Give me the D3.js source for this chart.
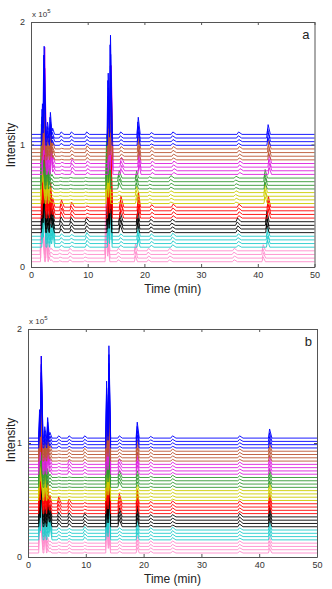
<!DOCTYPE html>
<html><head><meta charset="utf-8">
<script src="https://cdn.jsdelivr.net/npm/d3@7/dist/d3.min.js"></script>
<style>body{margin:0;background:#fff}svg{display:block}text{font-family:"Liberation Sans",Arial,sans-serif}</style>
</head><body><svg id="c" width="332" height="589"></svg>
<script>
// Peak retention times (min), shared by all samples
const peakTimes  = [2.0, 2.3, 2.9, 3.4, 3.8, 5.3, 7.1, 9.8, 13.6, 14.0, 15.8, 18.9, 21.2, 25.0, 36.6, 41.8];
const peakLeftW  = [0.15,0.15,0.15,0.15,0.2,0.25,0.25,0.25,0.15,0.15,0.25,0.2,0.25,0.3,0.3,0.2];
const peakRightW = [0.3,0.3,0.3,0.3,0.35,0.5,0.5,0.5,0.3,0.3,0.5,0.35,0.5,0.6,0.6,0.4];
// Peak heights (x10^5) per sample group, bottom to top
const pinkH    = [0.45,0.25,0.25,0.05,0.02,0.01,0.02,0.01,0.45,0.15,0.02,0.06,0.02,0.02,0.02,0.05];
const cyanH    = [0.20,0.45,0.10,0.10,0.16,0.02,0.015,0.03,0.20,0.45,0.02,0.08,0.02,0.025,0.02,0.07];
const blackH   = [0.20,0.50,0.10,0.20,0.10,0.04,0.035,0.03,0.25,0.50,0.08,0.10,0.02,0.02,0.03,0.09];
const redH     = [0.30,0.60,0.15,0.20,0.07,0.06,0.04,0.01,0.30,0.55,0.09,0.12,0.02,0.025,0.025,0.09];
const yellowH  = [0.45,0.20,0.25,0.05,0.02,0.005,0.005,0.005,0.35,0.30,0.01,0.05,0.01,0.015,0.015,0.07];
const greenH   = [0.50,0.20,0.30,0.08,0.03,0.005,0.005,0.005,0.35,0.30,0.06,0.06,0.01,0.02,0.015,0.07];
const magentaH = [0.30,0.95,0.10,0.25,0.05,0.01,0.035,0.02,0.30,0.80,0.05,0.10,0.02,0.02,0.02,0.07];
const brownH   = [0.20,0.50,0.10,0.20,0.05,0.005,0.02,0.025,0.30,0.60,0.02,0.10,0.02,0.02,0.02,0.07];
const blueH    = [0.25,0.72,0.10,0.18,0.05,0.02,0.02,0.02,0.50,0.81,0.02,0.14,0.015,0.02,0.02,0.08];
const groupHeights = [pinkH, cyanH, blackH, redH, yellowH, greenH, magentaH, brownH, blueH];
const groupColors  = ["#ff8ccc","#22cccc","#000000","#ff0000","#cccc00","#339933","#dd22dd","#bb5533","#0000ff"];
// Within-group relative intensity of the 4 replicate traces
const traceScale = [0.8, 0.88, 0.94, 1.0];
// Retention-time misalignment in panel a (fractional drift, constant shift in min)
const driftA = [-0.017,-0.003,-0.005,0.0,-0.01,-0.01,0.003,0.002,0.0];
const shiftA = [-0.15, 0.05, 0.0, 0.05,-0.1,-0.1, 0.1, 0.05, 0.0];
const traceJitterA = [0.0, 0.05, -0.05, 0.02];
const xTicks = [0,10,20,30,40,50];
const yTicks = [0,1,2];

const svg = d3.select("#c");
const panels = [
  {label:"a", xr:[31,314.5], yr:[267,22], base0:0.043, step:0.0297, aligned:false, tl:293, il:145},
  {label:"b", xr:[28,317],  yr:[557,329], base0:0.035, step:0.0288, aligned:true,  tl:583, il:440}
];

function traceValues(heights, scale, drift, shift){
  const pks = peakTimes.map((t,k)=>({t:t*(1+drift)+shift, h:heights[k]*scale, l:peakLeftW[k], r:peakRightW[k]}));
  let bp = [0,50];
  pks.forEach(p=>{bp.push(p.t-p.l,p.t,p.t+p.r);});
  bp = Array.from(new Set(bp)).filter(t=>t>=0&&t<=50).sort((a,b)=>a-b);
  return bp.map(t=>{
    let v=0;
    pks.forEach(p=>{
      if(t>=p.t-p.l && t<=p.t) v+=p.h*(t-(p.t-p.l))/p.l;
      else if(t>p.t && t<=p.t+p.r) v+=p.h*((p.t+p.r)-t)/p.r;
    });
    return [t,v];
  });
}

panels.forEach(P=>{
  const x = d3.scaleLinear().domain([0,50]).range(P.xr);
  const y = d3.scaleLinear().domain([0,2]).range(P.yr);
  const g = svg.append("g");
  const line = d3.line().x(d=>x(d[0])).y(d=>y(d[1]));
  let idx=0;
  groupHeights.forEach((H,gi)=>{
    traceScale.forEach((s,ti)=>{
      const base = P.base0 + idx*P.step;
      const drift = P.aligned?0:driftA[gi];
      const shift = P.aligned?0:shiftA[gi]+traceJitterA[ti];
      const vals = traceValues(H,s,drift,shift).map(d=>[d[0],d[1]+base]);
      g.append("path").attr("d",line(vals)).attr("fill","none")
        .attr("stroke",groupColors[gi]).attr("stroke-width",0.9).attr("stroke-linejoin","round");
      idx++;
    });
  });
  // axes (box with inward ticks)
  const ax = svg.append("g").attr("class","ax");
  const fmt = d3.format("d");
  ax.append("g").attr("transform",`translate(0,${P.yr[0]})`)
    .call(d3.axisBottom(x).tickValues(xTicks).tickFormat(fmt).tickSizeInner(-3).tickSizeOuter(0).tickPadding(5));
  ax.append("g").attr("transform",`translate(0,${P.yr[1]})`)
    .call(d3.axisTop(x).tickValues(xTicks).tickSizeInner(-3).tickSizeOuter(0).tickFormat(""));
  ax.append("g").attr("transform",`translate(${P.xr[0]},0)`)
    .call(d3.axisLeft(y).tickValues(yTicks).tickFormat(fmt).tickSizeInner(-3).tickSizeOuter(0).tickPadding(6));
  ax.append("g").attr("transform",`translate(${P.xr[1]},0)`)
    .call(d3.axisRight(y).tickValues(yTicks).tickSizeInner(-3).tickSizeOuter(0).tickFormat(""));
  ax.selectAll("path,line").attr("stroke","#555");
  ax.selectAll("text").attr("font-size",9).attr("fill","#333").attr("font-family","Liberation Sans, Arial, sans-serif");
  // labels
  const midX = (P.xr[0]+P.xr[1])/2;
  svg.append("text").attr("x",midX).attr("y",P.tl).attr("text-anchor","middle")
    .attr("font-size",12).attr("fill","#222").text("Time (min)");
  svg.append("text").attr("transform",`translate(15,${P.il}) rotate(-90)`).attr("text-anchor","middle")
    .attr("font-size",12).attr("fill","#222").text("Intensity");
  const mult = svg.append("text").attr("x",P.xr[0]+1).attr("y",P.yr[1]-5).attr("font-size",8).attr("fill","#333");
  mult.append("tspan").text("x 10");
  mult.append("tspan").attr("dy",-4).attr("font-size",6).text("5");
  svg.append("text").attr("x",P.xr[1]-5).attr("y",P.yr[1]+17).attr("text-anchor","end")
    .attr("font-size",13).attr("fill","#222").text(P.label);
});
</script></body></html>
